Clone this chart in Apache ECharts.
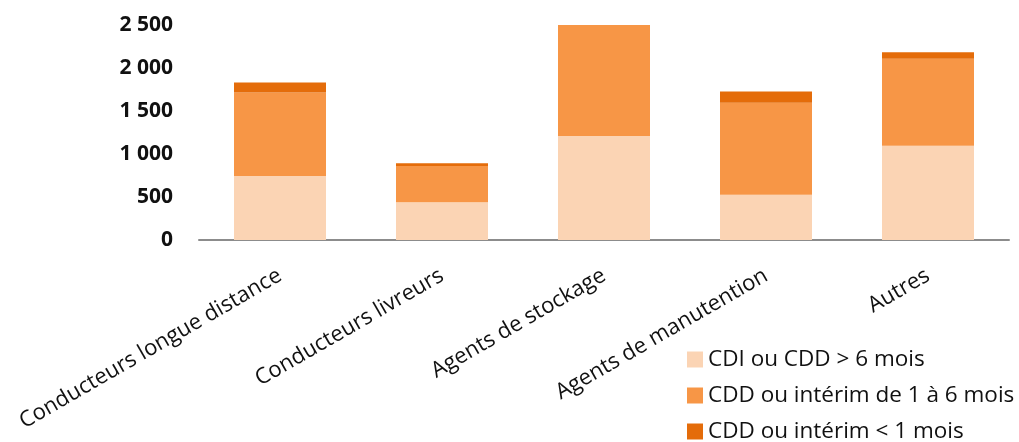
<!DOCTYPE html>
<html>
<head>
<meta charset="utf-8">
<script src="https://cdn.jsdelivr.net/npm/echarts@6/dist/echarts.min.js"></script>
<style>
  html, body { margin: 0; padding: 0; background: #fff; }
  #chart { width: 1019px; height: 442px; }
</style>
</head>
<body>
<div id="chart"></div>
<script>
// catégories et valeurs
var categories = ['Conducteurs longue distance', 'Conducteurs livreurs', 'Agents de stockage', 'Agents de manutention', 'Autres']
var cdiLong = [745, 440, 1210, 525, 1095]
var cdd1a6 = [970, 420, 1295, 1072, 1013]
var cddMoins1 = [115, 32, 0, 130, 75]
var seriesNames = ['CDI ou CDD > 6 mois', 'CDD ou intérim de 1 à 6 mois', 'CDD ou intérim < 1 mois']
var colors = ['#FBD4B4', '#F79646', '#E46C0A']

var chart = echarts.init(document.getElementById('chart'))
var font = 'Open Sans, Noto Sans, sans-serif'

function makeSerie(i, data) {
  return {
    name: seriesNames[i],
    type: 'bar',
    stack: 'total',
    barWidth: 92,
    data: data,
    itemStyle: { color: colors[i] }
  }
}

var option = {
  animation: false,
  grid: { left: 199, right: 10, top: 25, bottom: 202, containLabel: false },
  legend: {
    orient: 'vertical',
    left: 687,
    top: 348,
    width: 330,
    height: 120,
    padding: 0,
    icon: 'rect',
    itemWidth: 16,
    itemHeight: 16,
    itemGap: 13,
    textStyle: { fontSize: 22.5, lineHeight: 22, color: '#111', fontFamily: font },
    data: seriesNames
  },
  xAxis: {
    type: 'category',
    data: categories,
    axisLine: { lineStyle: { color: '#8c8c8c', width: 2 } },
    axisTick: { show: false },
    axisLabel: {
      interval: 0,
      rotate: 30,
      margin: 34,
      fontSize: 22,
      color: '#111',
      fontFamily: font
    }
  },
  yAxis: {
    type: 'value',
    min: 0,
    max: 2500,
    interval: 500,
    splitLine: { show: false },
    axisLine: { show: false },
    axisTick: { show: false },
    axisLabel: {
      margin: 26,
      fontSize: 21,
      fontWeight: 'bold',
      color: '#111',
      fontFamily: font,
      formatter: function (v) {
        return String(v).replace(/\B(?=(\d{3})+(?!\d))/g, ' ')
      }
    }
  },
  series: [
    makeSerie(0, cdiLong),
    makeSerie(1, cdd1a6),
    makeSerie(2, cddMoins1)
  ]
}

chart.setOption(option)
</script>
</body>
</html>
